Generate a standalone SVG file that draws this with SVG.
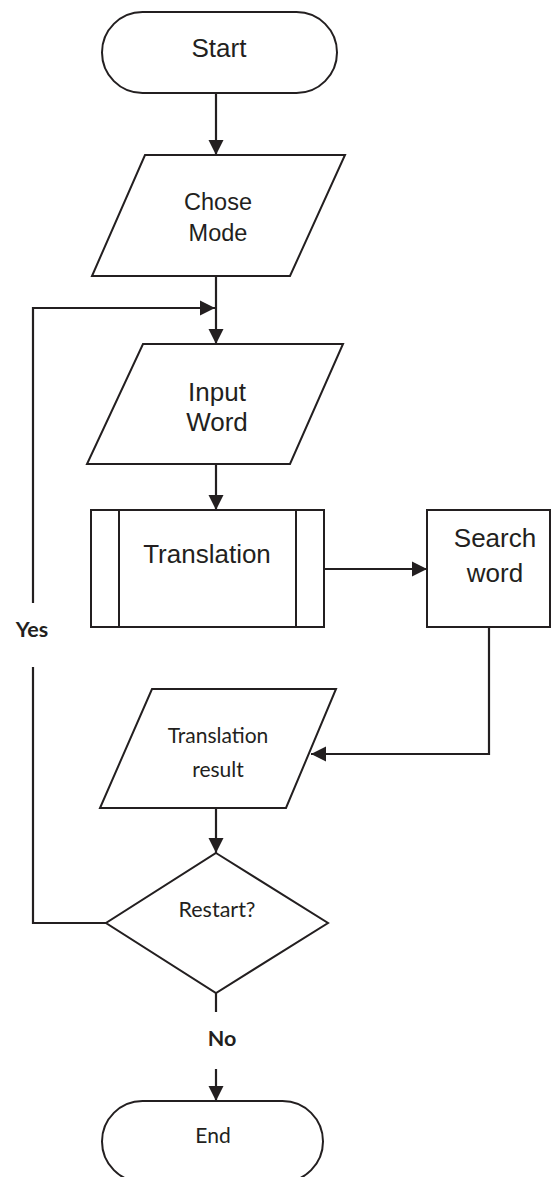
<svg xmlns="http://www.w3.org/2000/svg" width="552" height="1177" viewBox="0 0 552 1177">
<style>
.s{fill:#fff;stroke:#231f20;stroke-width:2}
.c{fill:none;stroke:#231f20;stroke-width:2.2}
.a{font-family:"Liberation Sans",Arial,sans-serif;fill:#231f20;text-anchor:middle}
.b{font-family:Lato,"Open Sans",sans-serif;fill:#231f20;text-anchor:middle}
</style>
<defs>
<marker id="ah" markerUnits="userSpaceOnUse" markerWidth="16" markerHeight="16" viewBox="0 0 16 16" refX="15" refY="8" orient="auto">
<path d="M0,0.5 L15,8 L0,15.5 Z" fill="#231f20"/>
</marker>
</defs>
<rect width="552" height="1177" fill="#fff"/>
<g id="connectors">
<line class="c" x1="216" y1="93" x2="216" y2="155" marker-end="url(#ah)"/>
<line class="c" x1="216" y1="276" x2="216" y2="344" marker-end="url(#ah)"/>
<line class="c" x1="216" y1="464" x2="216" y2="510" marker-end="url(#ah)"/>
<line class="c" x1="324" y1="569" x2="427" y2="569" marker-end="url(#ah)"/>
<polyline class="c" points="489,627 489,754 311,754" marker-end="url(#ah)"/>
<line class="c" x1="216" y1="808" x2="216" y2="853" marker-end="url(#ah)"/>
<polyline class="c" points="106,923 33,923 33,667"/>
<polyline class="c" points="33,603 33,308 215,308" marker-end="url(#ah)"/>
<line class="c" x1="216" y1="993" x2="216" y2="1012"/>
<line class="c" x1="216" y1="1069" x2="216" y2="1101" marker-end="url(#ah)"/>
<text class="b" x="32" y="637" font-size="21.5" font-weight="bold">Yes</text>
<text class="b" x="222" y="1046" font-size="21.5" font-weight="bold">No</text>
</g>
<g id="start">
<rect class="s" x="102" y="12" width="235" height="81" rx="40.5"/>
<text class="a" x="219" y="57" font-size="26">Start</text>
</g>
<g id="chose-mode">
<polygon class="s" points="145,155 345,155 290,276 92,276"/>
<text class="a" x="218" y="210" font-size="23.5">Chose</text>
<text class="a" x="218" y="241" font-size="23.5">Mode</text>
</g>
<g id="input-word">
<polygon class="s" points="143,344 343,344 290,464 87,464"/>
<text class="a" x="217" y="401" font-size="26">Input</text>
<text class="a" x="217" y="431" font-size="26">Word</text>
</g>
<g id="translation">
<rect class="s" x="91" y="510" width="233" height="117"/>
<line class="s" x1="119" y1="510" x2="119" y2="627"/>
<line class="s" x1="296" y1="510" x2="296" y2="627"/>
<text class="a" x="207" y="563" font-size="26">Translation</text>
</g>
<g id="search-word">
<rect class="s" x="427" y="510" width="123" height="117"/>
<text class="a" x="495" y="547" font-size="26">Search</text>
<text class="a" x="495" y="582" font-size="26">word</text>
</g>
<g id="translation-result">
<polygon class="s" points="152,689 336,689 286,808 100,808"/>
<text class="b" x="218" y="743" font-size="21">Translation</text>
<text class="b" x="218" y="777" font-size="21">result</text>
</g>
<g id="restart">
<polygon class="s" points="216,853 328,923 216,993 106,923"/>
<text class="b" x="217" y="917" font-size="21.5">Restart?</text>
</g>
<g id="end">
<rect class="s" x="102" y="1101" width="221" height="81" rx="40.5"/>
<text class="b" x="213" y="1143" font-size="21">End</text>
</g>
</svg>
